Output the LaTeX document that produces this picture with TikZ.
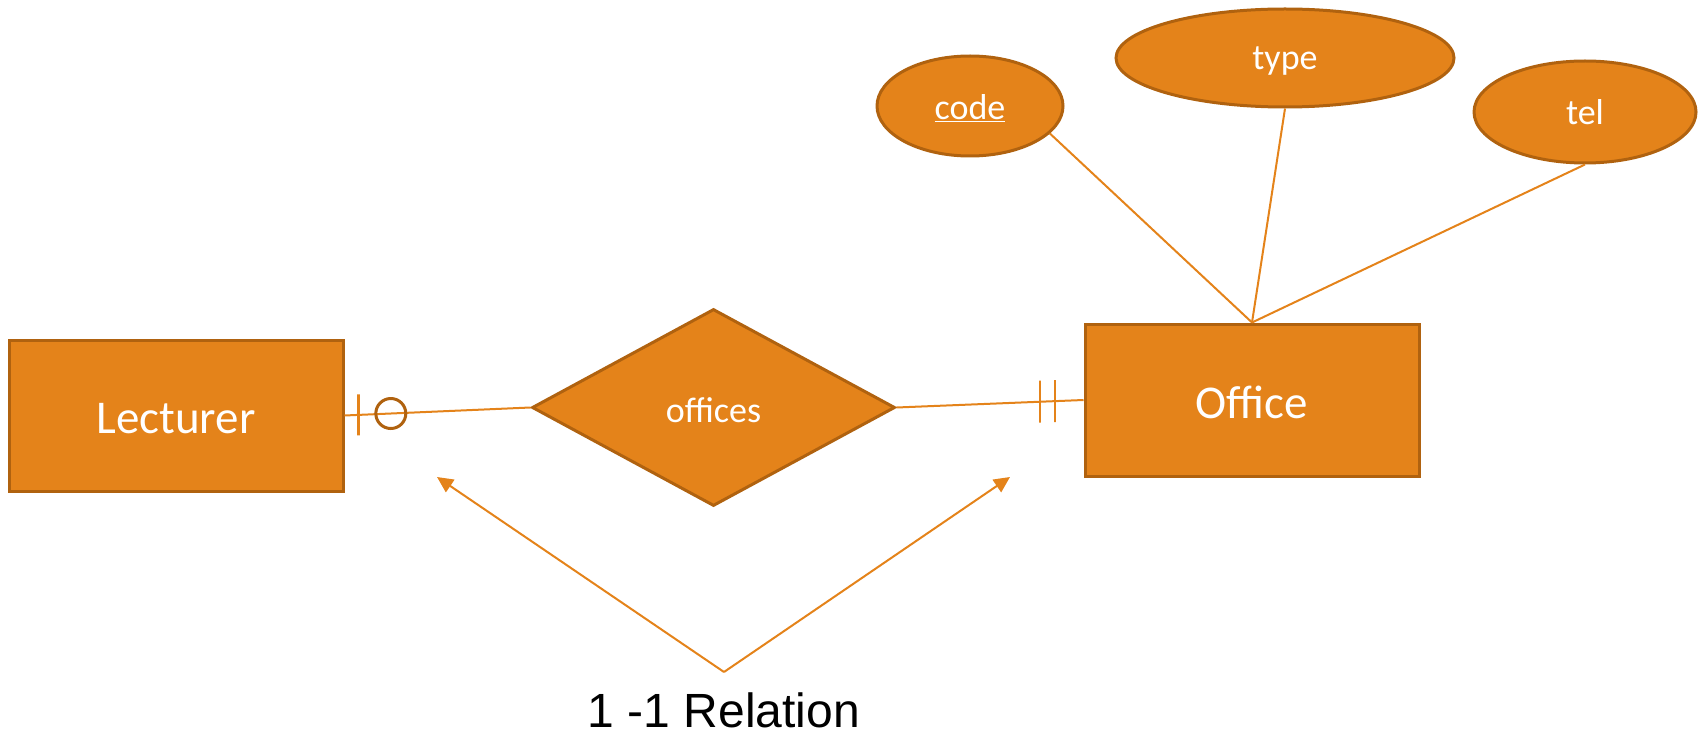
\documentclass[tikz,border=0pt]{standalone}
\usepackage{fontspec}
\setmainfont{Carlito}
\newfontfamily\arialfont{Liberation Sans}
\usetikzlibrary{shapes.geometric,arrows.meta}
\definecolor{erfill}{HTML}{E4831A}
\definecolor{erborder}{HTML}{B0620F}
\definecolor{erline}{HTML}{E4831A}
\tikzset{
  entity/.style={rectangle, draw=erborder, fill=erfill, line width=3pt, inner sep=0pt,
    text=white, text depth=0pt, font=\fontsize{47}{56}\selectfont},
  relation/.style={diamond, draw=erborder, fill=erfill, line width=3pt, inner sep=0pt,
    text=white, text depth=0pt, font=\fontsize{36}{44}\selectfont},
  attribute/.style={ellipse, draw=erborder, fill=erfill, line width=3pt, inner sep=0pt,
    text=white, text depth=0pt, font=\fontsize{36}{44}\selectfont},
  link/.style={draw=erline, line width=2pt},
  tick/.style={rectangle, draw=erline, line width=2.5pt, minimum width=0pt, inner sep=0pt},
  ring/.style={circle, draw=erborder, line width=3pt, minimum size=30pt, inner sep=0pt},
  pointer/.style={draw=erline, line width=2pt, -{Triangle[length=16pt,width=15pt]}}
}
\begin{document}
\begin{tikzpicture}[x=1pt,y=-1pt]
\useasboundingbox (0,0) rectangle (1707,735);

% entities
\node[entity, minimum width=334pt, minimum height=151pt, text height=35.4pt] (lect) at (176,415.5) {Lecturer};
\node[entity, minimum width=334pt, minimum height=152pt, text height=37pt] (office) at (1252,400) {Office};

% relationship
\node[relation, minimum width=363pt, minimum height=197pt, aspect=1.84, text height=29.5pt] (rel) at (713.5,407.5) {offices};

% attributes
\node[attribute, minimum width=186pt, minimum height=100pt, text height=28pt] (code) at (970,106) {\underline{code}};
\node[attribute, minimum width=338pt, minimum height=98pt, text height=23.8pt] (type) at (1285,58) {type};
\node[attribute, minimum width=222pt, minimum height=102pt, text height=26pt] (tel) at (1585,112) {tel};

% attribute links
\draw[link] (code.-19) -- (office.north);
\draw[link] (type.south) -- (office.north);
\draw[link] (tel.south) -- (office.north);

% relationship links with cardinality marks
\draw[link] (lect.east) -- (rel.west)
  node[tick, pos=0.074, minimum height=41pt] {}
  node[ring, pos=0.249] {};
\draw[link] (rel.east) -- (office.west)
  node[tick, pos=0.768, minimum height=42pt] {}
  node[tick, pos=0.847, minimum height=42pt] {};

% caption and pointers
\coordinate (apex) at (724,672);
\coordinate (ltip) at (437,477);
\coordinate (rtip) at (1010,477);
\draw[pointer] (apex) -- (ltip);
\draw[pointer] (apex) -- (rtip);
\node[font=\arialfont\fontsize{48}{56}\selectfont, text=black, anchor=base, inner sep=0pt] (caption) at (724,727) {1 -1 Relation};
\end{tikzpicture}
\end{document}
